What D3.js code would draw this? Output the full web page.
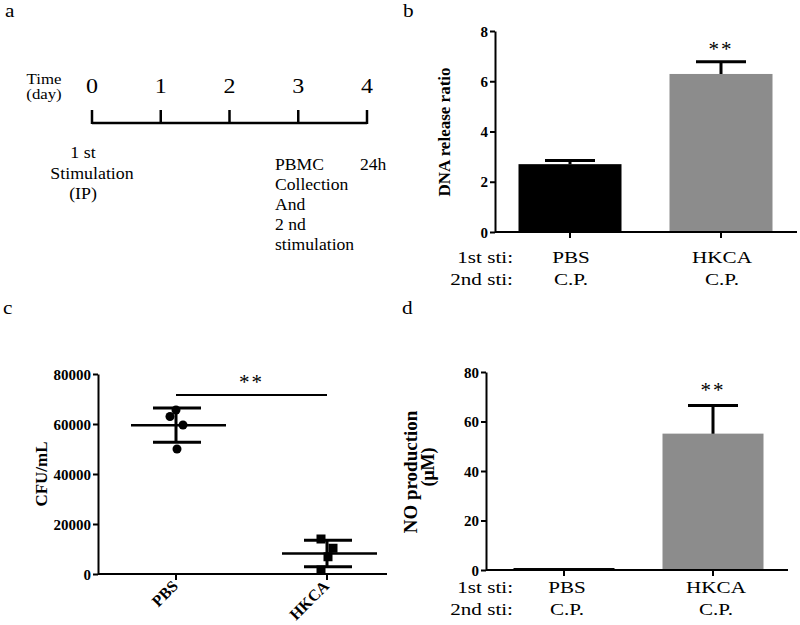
<!DOCTYPE html>
<html>
<head>
<meta charset="utf-8">
<script src="https://cdn.jsdelivr.net/npm/d3@7"></script>
<style>
  body { margin: 0; background: #fff; }
  svg text { font-family: "Liberation Serif", "Times New Roman", serif; }
</style>
</head>
<body>
<svg id="fig" width="800" height="625"></svg>
<script>
// timeline (panel a)
const days = [0, 1, 2, 3, 4];

// panel b: DNA release ratio
const groupsB = ['PBS', 'HKCA'];
const dnaMean = [2.7, 6.29];
const dnaErr = [0.15, 0.49];
const yTicksB = [0, 2, 4, 6, 8];

// panel c: CFU/mL, individual points
const cfuPBS = [65600, 63000, 59600, 50000];
const cfuHKCA = [14000, 10300, 6900, 1600];
const yTicksC = [0, 20000, 40000, 60000, 80000];

// panel d: NO production
const noMean = [0.8, 55.1];
const noErr = [0, 11.4];
const yTicksD = [0, 20, 40, 60, 80];

const svg = d3.select('#fig');
const black = '#000';
const grey = '#8c8c8c';

// the source figure's plain text is a bit wider than the font, so stretch it in x
function txt(g, s, x, y, size, anchor, sx) {
  return g.append('text')
    .attr('transform', `translate(${x},${y}) scale(${sx || 1.12},1)`)
    .attr('text-anchor', anchor || 'start')
    .style('font-size', size + 'px').text(s);
}

// ---------- a ----------
const ga = svg.append('g');
txt(ga, 'a', 5, 17, 19);
const xa = d3.scaleLinear().domain([0, 4]).range([92, 367]);
ga.append('line').attr('x1', xa(0)).attr('x2', xa(4)).attr('y1', 123).attr('y2', 123)
  .attr('stroke', black).attr('stroke-width', 2.5);
ga.selectAll('.tk').data(days).enter().append('line')
  .attr('x1', d => xa(d)).attr('x2', d => xa(d)).attr('y1', 110).attr('y2', 124)
  .attr('stroke', black).attr('stroke-width', 2.5);
days.forEach(d => txt(ga, d, xa(d), 93, 20, 'middle', 1.2));
txt(ga, 'Time', 44, 84, 15, 'middle');
txt(ga, '(day)', 44, 99, 15, 'middle');
[['1 st', 83, 158], ['Stimulation', 92, 179], ['(IP)', 83, 199]].forEach(t => {
  txt(ga, t[0], t[1], t[2], 17, 'middle', 1.05);
});
['PBMC', 'Collection', 'And', '2 nd', 'stimulation'].forEach((t, i) => {
  txt(ga, t, 275, 170 + i * 20, 16, 'start', 1.1);
});
txt(ga, '24h', 360, 170, 16, 'start', 1.1);

// ---------- shared helpers ----------
function yAxis(g, y, x0, ticks) {
  const ax = d3.axisLeft(y).tickValues(ticks).tickSize(5).tickSizeOuter(0).tickFormat(d3.format('d'));
  const a = g.append('g').attr('transform', `translate(${x0},0)`).call(ax);
  a.attr('font-family', null);
  a.select('.domain').attr('stroke-width', 2);
  a.selectAll('.tick line').attr('stroke-width', 2);
  a.selectAll('.tick text').style('font-size', '15px').style('font-weight', 'bold')
    .attr('dx', 1).attr('dy', '0.34em');
  return a;
}
function xBase(g, x, y0, x0, x1, cats) {
  g.append('line').attr('x1', x0).attr('x2', x1).attr('y1', y0).attr('y2', y0)
    .attr('stroke', black).attr('stroke-width', 2);
  g.selectAll('.xt').data(cats).enter().append('line')
    .attr('x1', d => x(d)).attr('x2', d => x(d)).attr('y1', y0).attr('y2', y0 + 6)
    .attr('stroke', black).attr('stroke-width', 2);
}
function stimLabels(g, x, yb, cats, dx) {
  txt(g, '1st sti:', 513, yb, 16, 'end', 1.32);
  txt(g, '2nd sti:', 513, yb + 22, 16, 'end', 1.32);
  cats.forEach(c => {
    txt(g, c, x(c) + dx, yb, 16, 'middle', 1.32);
    txt(g, 'C.P.', x(c) + dx, yb + 22, 16, 'middle', 1.32);
  });
}
function stars(g, x, y) {
  g.append('text').attr('x', x).attr('y', y).attr('text-anchor', 'middle')
    .style('font-size', '21px').style('letter-spacing', '2px').text('**');
}
function yLabel(g, s, x, y, size) {
  g.append('text').attr('transform', `translate(${x},${y}) rotate(-90)`).attr('text-anchor', 'middle')
    .style('font-size', size + 'px').style('font-weight', 'bold').text(s);
}

// ---------- b ----------
const gb = svg.append('g');
txt(gb, 'b', 403, 17, 19);
const yb = d3.scaleLinear().domain([0, 8]).range([232, 31]);
const xb = d3.scalePoint().domain(groupsB).range([570, 721]);
const bwB = 103;
gb.selectAll('.bar').data(groupsB).enter().append('rect')
  .attr('x', d => xb(d) - bwB / 2).attr('width', bwB)
  .attr('y', (d, i) => yb(dnaMean[i])).attr('height', (d, i) => yb(0) - yb(dnaMean[i]))
  .attr('fill', (d, i) => i === 0 ? black : grey);
gb.selectAll('.eb').data(groupsB).enter().append('path')
  .attr('d', (d, i) => {
    const cx = xb(d), t = yb(dnaMean[i] + dnaErr[i]);
    return `M${cx},${yb(dnaMean[i])}V${t}M${cx - 25},${t}H${cx + 25}`;
  })
  .attr('stroke', black).attr('stroke-width', 3).attr('fill', 'none');
yAxis(gb, yb, 495, yTicksB);
xBase(gb, xb, 232, 495, 797, groupsB);
yLabel(gb, 'DNA release ratio', 450, 132, 17);
stars(gb, xb('HKCA'), yb(dnaMean[1] + dnaErr[1]) - 6);
stimLabels(gb, xb, 263, groupsB, 1);

// ---------- c ----------
const gc = svg.append('g');
txt(gc, 'c', 3, 314, 19);
const yc = d3.scaleLinear().domain([0, 80000]).range([574, 374]);
const xc = d3.scalePoint().domain(['PBS', 'HKCA']).range([176, 327]);
const sets = [cfuPBS, cfuHKCA];
const jitter = [[0, -6, 7, 1], [-6, 6, 1, -6]];
sets.forEach((vals, k) => {
  const cat = xc.domain()[k];
  const cx = xc(cat);
  const m = d3.mean(vals), sd = d3.deviation(vals);
  gc.append('line').attr('x1', cx - 45).attr('x2', cx + 50).attr('y1', yc(m)).attr('y2', yc(m))
    .attr('stroke', black).attr('stroke-width', 2.5);
  gc.append('path')
    .attr('d', `M${cx},${yc(m + sd)}V${yc(m - sd)}M${cx - 23},${yc(m + sd)}H${cx + 25}M${cx - 23},${yc(m - sd)}H${cx + 25}`)
    .attr('stroke', black).attr('stroke-width', 3).attr('fill', 'none');
  if (k === 0) {
    gc.selectAll('.pt0').data(vals).enter().append('circle')
      .attr('cx', (d, i) => cx + jitter[k][i]).attr('cy', d => yc(d)).attr('r', 4.5).attr('fill', black);
  } else {
    gc.selectAll('.pt1').data(vals).enter().append('rect')
      .attr('x', (d, i) => cx + jitter[k][i] - 4.5).attr('y', d => yc(d) - 4.5)
      .attr('width', 9).attr('height', 9).attr('fill', black);
  }
});
yAxis(gc, yc, 98, yTicksC);
xBase(gc, xc, 574, 98, 387, xc.domain());
gc.selectAll('.xl').data(xc.domain()).enter().append('text')
  .attr('transform', d => `translate(${xc(d) + 3},587) rotate(-45)`)
  .attr('text-anchor', 'end').style('font-size', '16px').style('font-weight', 'bold').text(d => d);
gc.append('line').attr('x1', xc('PBS')).attr('x2', xc('HKCA')).attr('y1', 395).attr('y2', 395)
  .attr('stroke', black).attr('stroke-width', 2);
stars(gc, (xc('PBS') + xc('HKCA')) / 2, 389);
yLabel(gc, 'CFU/mL', 47, 474, 17);

// ---------- d ----------
const gd = svg.append('g');
txt(gd, 'd', 402, 314, 19);
const yd = d3.scaleLinear().domain([0, 80]).range([570, 372]);
const xd = d3.scalePoint().domain(groupsB).range([564, 713]);
const bwD = 101;
gd.selectAll('.bar').data(groupsB).enter().append('rect')
  .attr('x', d => xd(d) - bwD / 2).attr('width', bwD)
  .attr('y', (d, i) => yd(noMean[i])).attr('height', (d, i) => yd(0) - yd(noMean[i]))
  .attr('fill', (d, i) => i === 0 ? black : grey);
gd.selectAll('.eb').data(groupsB.filter((d, i) => noErr[i] > 0)).enter().append('path')
  .attr('d', d => {
    const i = groupsB.indexOf(d);
    const cx = xd(d), t = yd(noMean[i] + noErr[i]);
    return `M${cx},${yd(noMean[i])}V${t}M${cx - 25},${t}H${cx + 25}`;
  })
  .attr('stroke', black).attr('stroke-width', 3).attr('fill', 'none');
yAxis(gd, yd, 486, yTicksD);
xBase(gd, xd, 570, 486, 788, groupsB);
yLabel(gd, 'NO production', 417, 472, 19);
yLabel(gd, '(μM)', 434, 467, 18);
stars(gd, xd('HKCA'), yd(noMean[1] + noErr[1]) - 8);
stimLabels(gd, xd, 593, groupsB, 3);
</script>
</body>
</html>
